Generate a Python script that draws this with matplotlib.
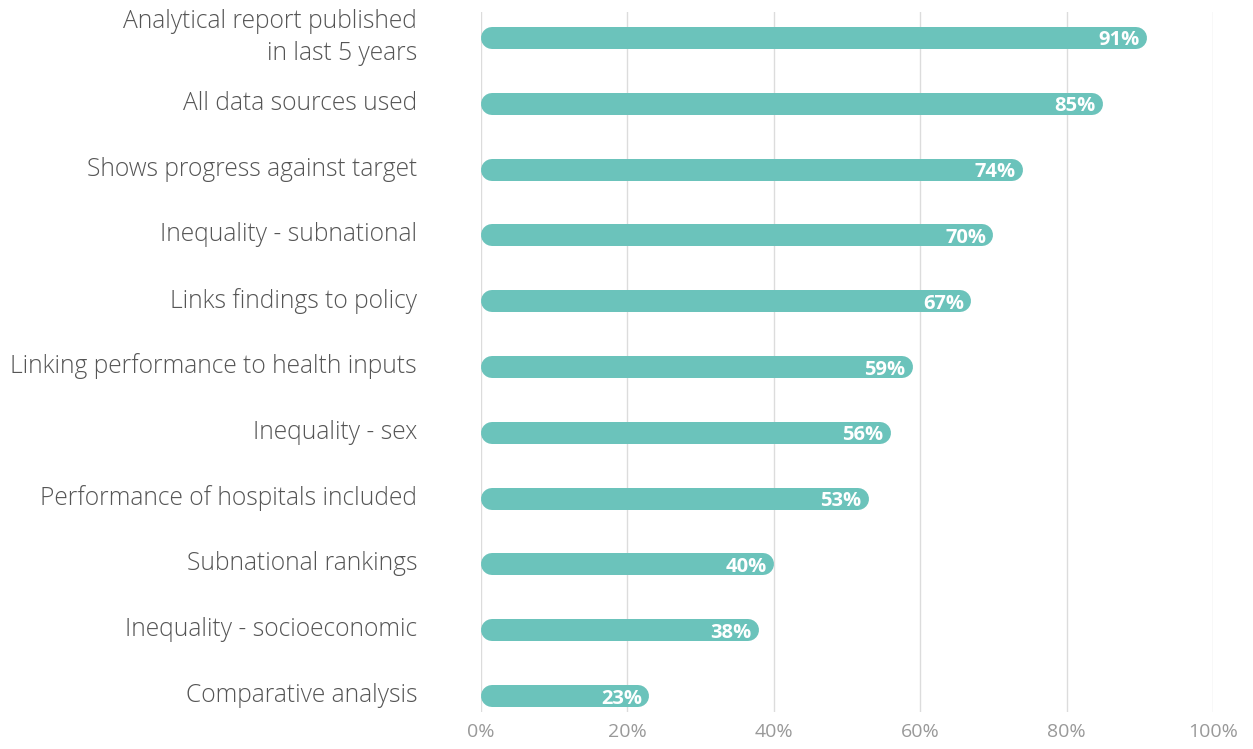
import matplotlib
matplotlib.use("Agg")
import matplotlib.pyplot as plt
from matplotlib.ticker import FixedLocator

categories = [
    "Analytical report published\nin last 5 years",
    "All data sources used",
    "Shows progress against target",
    "Inequality - subnational",
    "Links findings to policy",
    "Linking performance to health inputs",
    "Inequality - sex",
    "Performance of hospitals included",
    "Subnational rankings",
    "Inequality - socioeconomic",
    "Comparative analysis",
]
values = [91, 85, 74, 70, 67, 59, 56, 53, 40, 38, 23]
x_ticks = [0, 20, 40, 60, 80, 100]
x_tick_labels = ["0%", "20%", "40%", "60%", "80%", "100%"]

BAR_COLOR = "#6BC3BB"
GRID_COLOR = "#DCDCDC"
LABEL_COLOR = "#555555"
TICK_COLOR = "#999999"
FONT = ["Open Sans", "DejaVu Sans"]

W, H, DPI = 1253, 749, 100
fig = plt.figure(figsize=(W / DPI, H / DPI), dpi=DPI)
ax = fig.add_axes([481 / W, 1 - 712 / H, (1213 - 481) / W, (712 - 12) / H])

n = len(categories)
ax.set_xlim(0, 100)
ax.set_ylim(n - 1 + 0.243, -0.395)

# bar thickness in pixels, converted to points for the rounded-cap lines
bar_px = 22
lw_pt = bar_px * 72 / DPI
px_per_unit = ax.get_position().width * W / 100
r = (bar_px / 2) / px_per_unit

for i, (cat, v) in enumerate(zip(categories, values)):
    ax.plot([r, v - r], [i, i], color=BAR_COLOR, linewidth=lw_pt,
            solid_capstyle="round", zorder=3)
    ax.text(v - 1.0, i, f"{v}%", color="white", fontsize=14.5,
            fontweight="bold", family=FONT, ha="right", va="center_baseline",
            zorder=4)
    # category label, right-aligned to the left of the plot area
    ax.annotate(cat, xy=(0, i), xytext=(-64, 0.5), textcoords="offset pixels",
                ha="right", va="center", multialignment="right",
                family=FONT, fontsize=17.7, color=LABEL_COLOR,
                fontweight="light", linespacing=1.36, annotation_clip=False)

ax.xaxis.set_major_locator(FixedLocator(x_ticks))
ax.set_xticklabels(x_tick_labels, family=FONT, fontsize=14, color=TICK_COLOR)
ax.set_yticks([])
ax.tick_params(axis="x", length=0, pad=8)
ax.grid(axis="x", color=GRID_COLOR, linewidth=1, zorder=0)
ax.grid(axis="y", visible=False)
for s in ax.spines.values():
    s.set_visible(False)

fig.savefig("out.png", dpi=DPI)
